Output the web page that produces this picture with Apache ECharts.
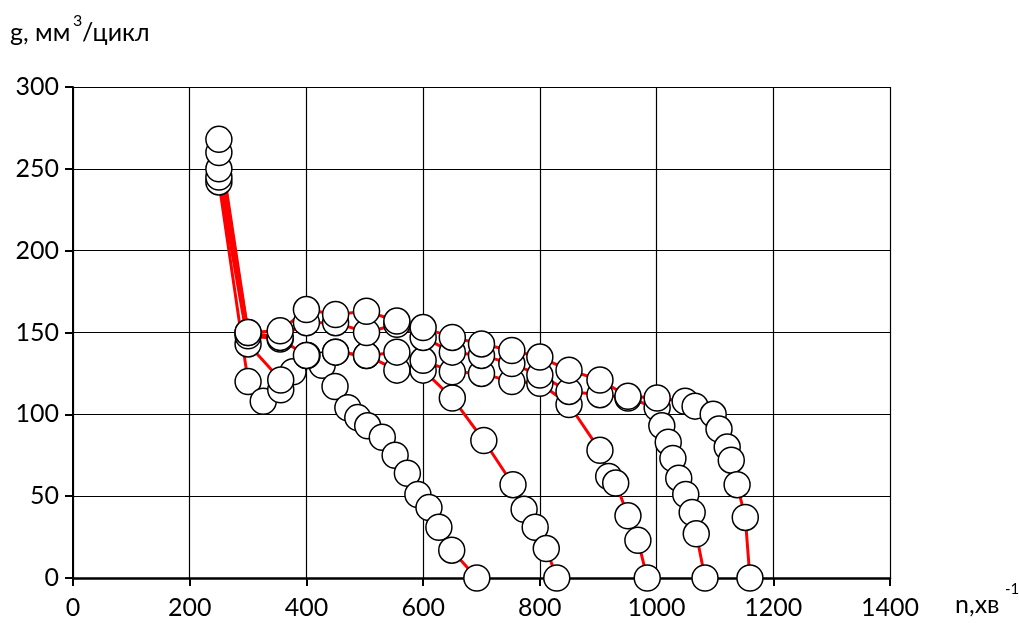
<!DOCTYPE html>
<html><head><meta charset="utf-8">
<script src="https://cdn.jsdelivr.net/npm/echarts@6/dist/echarts.min.js"></script>
<style>html,body{margin:0;padding:0;background:#fff}#c{width:1019px;height:623px}</style>
</head><body><div id="c"></div>
<script>
const xTicks = [0, 200, 400, 600, 800, 1000, 1200, 1400];
const yTicks = [0, 50, 100, 150, 200, 250, 300];
const curve1 = [[250,242],[300,120],[326,108],[356,115],[377,126],[401,136],[427,130],[449,117],[471,104],[488,98],[505,93],[530,86],[552,75],[573,64],[591,51],[610,43],[627,31],[649,17],[692,0]];
const curve2 = [[250,245],[300,143],[356,121],[401,136],[450,138],[503,136],[555,127],[600,127],[650,110],[704,84],[754,57],[773,42],[792,31],[811,18],[829,0]];
const curve3 = [[250,250],[300,148],[355,146],[400,136],[450,138],[503,136],[555,138],[600,133],[650,126],[700,125],[752,120],[800,119],[850,106],[903,78],[918,62],[930,58],[951,38],[968,23],[984,0]];
const curve4 = [[250,260],[300,150],[355,147],[400,156],[450,156],[503,150],[555,155],[600,147],[650,138],[700,136],[752,131],[800,124],[850,114],[903,112],[951,110],[1001,104],[1009,93],[1020,83],[1028,73],[1038,61],[1050,51],[1061,40],[1068,27],[1083,0]];
const curve5 = [[250,268],[300,150],[355,151],[400,164],[450,161],[503,163],[555,157],[600,153],[650,147],[700,143],[752,139],[800,135],[850,127],[903,121],[951,111],[1001,110],[1049,108],[1066,105],[1097,100],[1107,91],[1121,80],[1128,72],[1138,57],[1152,37],[1160,0]];
const curves = [curve1, curve2, curve3, curve4, curve5];

const FONT = 'Lato';
const chart = echarts.init(document.getElementById('c'), null, {renderer: 'canvas'});
const series = [];
curves.forEach(function (d) {
  series.push({type: 'line', data: d, showSymbol: false, symbol: 'none', z: 2,
    lineStyle: {color: '#ff0000', width: 3}, animation: false, silent: true});
});
curves.forEach(function (d) {
  series.push({type: 'scatter', data: d, symbol: 'circle', symbolSize: 26, z: 3,
    itemStyle: {color: '#ffffff', borderColor: '#000000', borderWidth: 1.5, opacity: 1},
    animation: false, silent: true});
});

chart.setOption({
  backgroundColor: '#ffffff',
  animation: false,
  grid: {left: 73, right: 129, top: 87, bottom: 45, containLabel: false},
  xAxis: {
    type: 'value', min: xTicks[0], max: xTicks[xTicks.length - 1], interval: xTicks[1] - xTicks[0],
    axisLine: {show: true, onZero: false, lineStyle: {color: '#000', width: 2.5}},
    axisTick: {show: true, inside: false, length: 8, lineStyle: {color: '#000', width: 2}},
    axisLabel: {color: '#000', fontFamily: FONT, fontSize: 25, margin: 17,
      formatter: function (v) { return String(v); }},
    splitLine: {show: true, lineStyle: {color: '#000', width: 1.2}}
  },
  yAxis: {
    type: 'value', min: yTicks[0], max: yTicks[yTicks.length - 1], interval: yTicks[1] - yTicks[0],
    axisLine: {show: true, onZero: false, lineStyle: {color: '#000', width: 2}},
    axisTick: {show: true, inside: false, length: 8, lineStyle: {color: '#000', width: 2}},
    axisLabel: {color: '#000', fontFamily: FONT, fontSize: 25, margin: 14,
      formatter: function (v) { return String(v); }},
    splitLine: {show: true, lineStyle: {color: '#000', width: 1.2}}
  },
  graphic: [
    {type: 'text', left: 10, top: 20, z: 10, style: {text: 'g, мм', fill: '#000', font: '25px Lato'}},
    {type: 'text', left: 73, top: 13, z: 10, style: {text: '3', fill: '#000', font: '16px Lato'}},
    {type: 'text', left: 82, top: 20, z: 10, style: {text: '/цикл', fill: '#000', font: '25px Lato'}},
    {type: 'text', left: 955, top: 592, z: 10, style: {text: 'n,хв', fill: '#000', font: '25px Lato'}},
    {type: 'text', left: 1005, top: 582, z: 10, style: {text: '-1', fill: '#000', font: '15px Lato'}}
  ],
  series: series
});
</script></body></html>
